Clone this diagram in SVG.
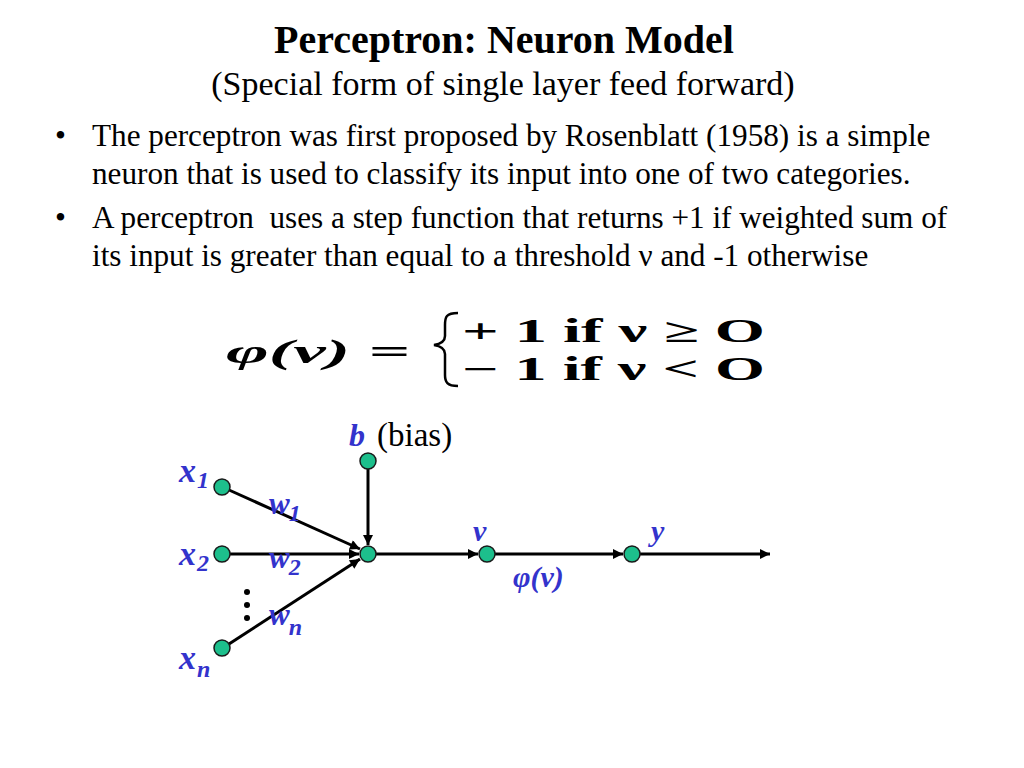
<svg xmlns="http://www.w3.org/2000/svg" width="1024" height="768" viewBox="0 0 1024 768">
<defs>
<marker id="arr" viewBox="0 0 10 10" refX="10" refY="5" markerWidth="12" markerHeight="10" markerUnits="userSpaceOnUse" orient="auto">
<path d="M0,0 L10,5 L0,10 z" fill="#000"/>
</marker>
<style>
.t{font-family:"Liberation Serif","Times New Roman",serif;fill:#000}
.lbl{font-family:"Liberation Serif","Times New Roman",serif;font-style:italic;font-weight:bold;fill:#3333CC}
.sub{font-size:24px}
.node{fill:#1DBF8C;stroke:#1a1a1a;stroke-width:1.5}
.edge{stroke:#000;stroke-width:3;fill:none;marker-end:url(#arr)}
.eq{font-family:"Liberation Serif","Times New Roman",serif;font-weight:bold;font-size:33px;fill:#000}
</style>
</defs>
<rect width="1024" height="768" fill="#fff"/>
<text class="t" x="504" y="53" text-anchor="middle" font-size="40" font-weight="bold">Perceptron: Neuron Model</text>
<text class="t" x="503" y="95" text-anchor="middle" font-size="34">(Special form of single layer feed forward)</text>
<g class="t" font-size="31.2">
<text x="55" y="146">•</text>
<text x="92" y="146">The perceptron was first proposed by Rosenblatt (1958) is a simple</text>
<text x="92" y="184">neuron that is used to classify its input into one of two categories.</text>
<text x="55" y="228">•</text>
<text x="92" y="228" xml:space="preserve">A perceptron  uses a step function that returns +1 if weighted sum of</text>
<text x="92" y="266">its input is greater than equal to a threshold ν and -1 otherwise</text>
</g>
<g id="equation">
<text class="eq" x="226" y="363" font-size="38" textLength="184" lengthAdjust="spacingAndGlyphs" font-style="italic">φ(ν) =</text>
<path d="M458,313 C446,313 445,317 445,325 L445,336 C445,342 440,344 434,345 C440,346 445,348 445,354 L445,375 C445,382 447,386 458,386" fill="none" stroke="#000" stroke-width="2.5"/>
<text class="eq" x="462" y="342" textLength="303" lengthAdjust="spacingAndGlyphs">+ 1 if  ν ≥ O</text>
<text class="eq" x="462" y="380" textLength="303" lengthAdjust="spacingAndGlyphs">− 1 if  ν &lt; O</text>
</g>
<g id="connectors">
<line class="edge" x1="229" y1="490" x2="360" y2="549"/>
<line class="edge" x1="230" y1="554" x2="359" y2="554"/>
<line class="edge" x1="229" y1="644" x2="360" y2="559"/>
<line class="edge" x1="368" y1="469" x2="368" y2="545"/>
<line class="edge" x1="376" y1="554" x2="478" y2="554"/>
<line class="edge" x1="495" y1="554" x2="623" y2="554"/>
<line class="edge" x1="640" y1="554" x2="770" y2="554"/>
</g>
<g id="node-x1"><circle class="node" cx="222" cy="487" r="8"/><text class="lbl" x="179" y="482" font-size="34">x<tspan class="sub" dx="1" dy="6">1</tspan></text></g>
<g id="node-x2"><circle class="node" cx="222" cy="554" r="8"/><text class="lbl" x="179" y="565" font-size="34">x<tspan class="sub" dx="1" dy="6">2</tspan></text></g>
<g id="node-xn"><circle class="node" cx="222" cy="648" r="8"/><text class="lbl" x="179" y="669" font-size="34">x<tspan class="sub" dx="1" dy="8">n</tspan></text></g>
<g id="node-b"><circle class="node" cx="368" cy="461" r="8"/><text class="lbl" x="349" y="446" font-size="32">b</text><text class="t" x="377" y="446" font-size="33">(bias)</text></g>
<g id="node-sum"><circle class="node" cx="368" cy="554" r="8"/></g>
<g id="node-v"><circle class="node" cx="487" cy="554" r="8"/><text class="lbl" x="473" y="541" font-size="30">v</text></g>
<g id="node-y"><circle class="node" cx="632" cy="554" r="8"/><text class="lbl" x="651" y="541" font-size="30">y</text></g>
<g id="weights">
<text class="lbl" x="269" y="514" font-size="31">w<tspan class="sub" dx="-1" dy="7">1</tspan></text>
<text class="lbl" x="269" y="568" font-size="31">w<tspan class="sub" dx="-1" dy="7">2</tspan></text>
<text class="lbl" x="269" y="625" font-size="31">w<tspan class="sub" dx="-1" dy="10">n</tspan></text>
<circle cx="247" cy="592" r="3" fill="#000"/>
<circle cx="247" cy="605" r="3" fill="#000"/>
<circle cx="247" cy="618" r="3" fill="#000"/>
<text class="lbl" x="513" y="587" font-size="30">φ(v)</text>
</g>
</svg>
